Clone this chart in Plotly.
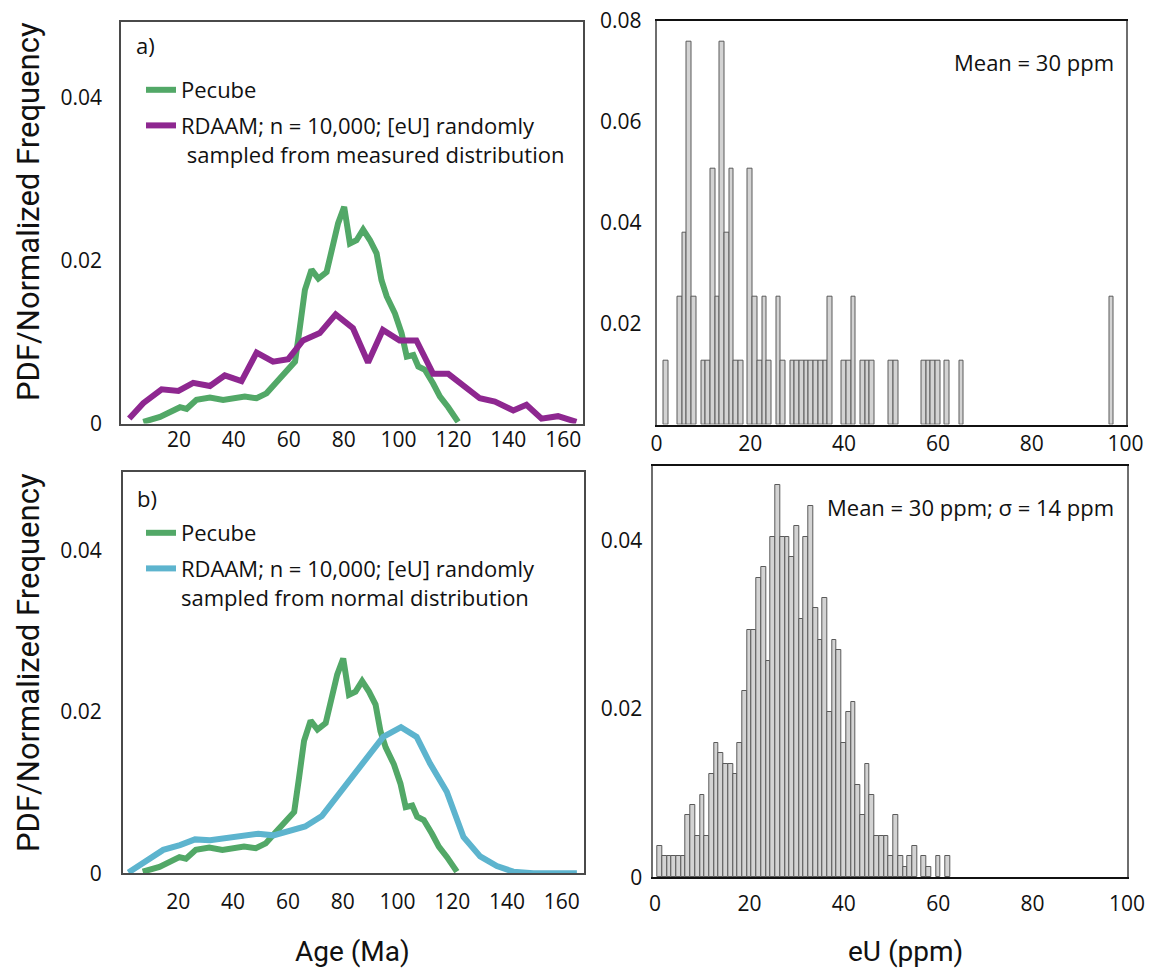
import plotly.graph_objects as go

# ---------------- data ----------------
# Pecube age distribution (same model output shown in both age panels)
pecube_age = [7.0, 13.1, 20.4, 22.8, 26.4, 31.3, 36.1, 39.8, 44.0, 48.3, 51.9, 55.6,
              59.2, 62.3, 64.1, 65.9, 68.3, 70.8, 73.8, 76.2, 78.0, 80.2, 82.3, 84.7,
              87.1, 89.6, 92.0, 93.8, 95.7, 98.7, 101.1, 103.0, 105.4, 107.2, 109.6,
              112.6, 115.1, 118.1, 121.7]
pecube_pdf = [0.0002, 0.0008, 0.0020, 0.0018, 0.0029, 0.0032, 0.0029, 0.0031, 0.0033,
              0.0031, 0.0037, 0.0051, 0.0066, 0.0076, 0.0119, 0.0164, 0.0189, 0.0178,
              0.0186, 0.0217, 0.0246, 0.0266, 0.0221, 0.0225, 0.0238, 0.0225, 0.0209,
              0.0176, 0.0156, 0.0135, 0.0111, 0.0082, 0.0084, 0.0070, 0.0066, 0.0049,
              0.0033, 0.0020, 0.0002]

# RDAAM ages, [eU] sampled from the measured distribution
rdaam_meas_age = [1.9, 7.0, 13.7, 19.8, 25.2, 31.3, 36.7, 42.8, 48.3, 54.3, 59.8, 65.2,
                  71.3, 77.1, 83.4, 88.9, 94.3, 100.4, 106.5, 112.6, 118.1, 123.5, 129.6,
                  135.1, 141.8, 146.6, 152.1, 158.1, 164.8]
rdaam_meas_pdf = [0.0006, 0.0025, 0.0042, 0.0040, 0.0050, 0.0046, 0.0059, 0.0052, 0.0087,
                  0.0076, 0.0079, 0.0102, 0.0111, 0.0134, 0.0117, 0.0075, 0.0115, 0.0102,
                  0.0102, 0.0061, 0.0061, 0.0047, 0.0031, 0.0027, 0.0016, 0.0023, 0.0006,
                  0.0009, 0.0002]

# RDAAM ages, [eU] sampled from a normal distribution
rdaam_norm_age = [1.8, 7.7, 14.5, 20.6, 26.1, 31.6, 37.7, 43.7, 49.2, 54.7, 60.8, 66.3,
                  72.4, 77.8, 83.9, 89.4, 94.8, 101.3, 107.0, 111.9, 118.0, 124.1, 130.2,
                  136.3, 142.3, 149.6, 165.5]
rdaam_norm_pdf = [0.0001, 0.0014, 0.0029, 0.0035, 0.0042, 0.0041, 0.0044, 0.0047, 0.0049,
                  0.0047, 0.0052, 0.0058, 0.0071, 0.0095, 0.0122, 0.0148, 0.0169, 0.0181,
                  0.0169, 0.0136, 0.0101, 0.0045, 0.0021, 0.0009, 0.0002, 0.0, 0.0]

# measured eU histogram (1 ppm bins, bin centres)
eu_meas_bins = [2, 5, 6, 7, 8, 10, 11, 12, 13, 14, 15, 16, 17, 18, 20, 21, 22, 23, 24,
                26, 27, 29, 30, 31, 32, 33, 34, 35, 36, 37, 40, 41, 42, 44, 45, 46, 50,
                51, 57, 58, 59, 60, 62, 65, 97]
eu_meas_freq = [0.0127, 0.0253, 0.0380, 0.0759, 0.0253, 0.0127, 0.0127, 0.0506, 0.0253,
                0.0759, 0.0380, 0.0506, 0.0127, 0.0127, 0.0506, 0.0253, 0.0127, 0.0253,
                0.0127, 0.0253, 0.0127, 0.0127, 0.0127, 0.0127, 0.0127, 0.0127, 0.0127,
                0.0127, 0.0127, 0.0253, 0.0127, 0.0127, 0.0253, 0.0127, 0.0127, 0.0127,
                0.0127, 0.0127, 0.0127, 0.0127, 0.0127, 0.0127, 0.0127, 0.0127, 0.0253]

# normally distributed eU histogram (1 ppm bins, bin centres)
eu_norm_bins = list(range(1, 56)) + [57, 58, 60, 62]
eu_norm_freq = [0.0037, 0.0025, 0.0025, 0.0025, 0.0025, 0.0025, 0.0074, 0.0086, 0.0049,
                0.0098, 0.0049, 0.0123, 0.0159, 0.0147, 0.0135, 0.0135, 0.0123, 0.0159,
                0.0221, 0.0294, 0.0294, 0.0355, 0.0368, 0.0257, 0.0404, 0.0466, 0.0404,
                0.0404, 0.0380, 0.0417, 0.0306, 0.0404, 0.0441, 0.0319, 0.0282, 0.0331,
                0.0196, 0.0282, 0.0270, 0.0159, 0.0196, 0.0208, 0.0110, 0.0074, 0.0135,
                0.0098, 0.0049, 0.0049, 0.0049, 0.0025, 0.0074, 0.0025, 0.0012, 0.0025,
                0.0037, 0.0025, 0.0012, 0.0025, 0.0025]

age_ticks = [20, 40, 60, 80, 100, 120, 140, 160]
eu_ticks = [0, 20, 40, 60, 80, 100]

# ---------------- styling ----------------
W, H = 1151, 968
GREEN = "#52A867"
PURPLE = "#8E2790"
BLUE = "#5DB4CE"
BAR_FILL = "#D3D3D3"
BAR_LINE = "#5A5A5A"
TICK_FONT = dict(family="Open Sans, sans-serif", size=21, color="#111111")
TEXT_FONT = dict(family="Open Sans, sans-serif", size=22, color="#111111")
TITLE_FAMILY = "Roboto, sans-serif"


def px_x(v):
    return v / W


def px_y(v):
    return 1 - v / H


fig = go.Figure()

# age panels
fig.add_trace(go.Scatter(x=pecube_age, y=pecube_pdf, mode="lines", name="Pecube",
                         line=dict(color=GREEN, width=6), xaxis="x", yaxis="y",
                         legend="legend", legendgroup="a1"))
fig.add_trace(go.Scatter(x=rdaam_meas_age, y=rdaam_meas_pdf, mode="lines",
                         name="RDAAM; n = 10,000; [eU] randomly<br> sampled from measured distribution",
                         line=dict(color=PURPLE, width=6), xaxis="x", yaxis="y",
                         legend="legend", legendgroup="a2"))
fig.add_trace(go.Scatter(x=pecube_age, y=pecube_pdf, mode="lines", name="Pecube",
                         line=dict(color=GREEN, width=6), xaxis="x3", yaxis="y3",
                         legend="legend2", legendgroup="b1"))
fig.add_trace(go.Scatter(x=rdaam_norm_age, y=rdaam_norm_pdf, mode="lines",
                         name="RDAAM; n = 10,000; [eU] randomly<br>sampled from normal distribution",
                         line=dict(color=BLUE, width=6), xaxis="x3", yaxis="y3",
                         legend="legend2", legendgroup="b2"))

# eU histograms
fig.add_trace(go.Bar(x=eu_meas_bins, y=eu_meas_freq, width=1.0, xaxis="x2", yaxis="y2",
                     marker=dict(color=BAR_FILL, line=dict(color=BAR_LINE, width=1)),
                     showlegend=False))
fig.add_trace(go.Bar(x=eu_norm_bins, y=eu_norm_freq, width=1.0, xaxis="x4", yaxis="y4",
                     marker=dict(color=BAR_FILL, line=dict(color=BAR_LINE, width=1)),
                     showlegend=False))

common = dict(showgrid=False, zeroline=False, ticks="", tickfont=TICK_FONT,
              automargin=False, showline=True, mirror=True)
left_frame = dict(linecolor="#4A4A4A", linewidth=1.5, **common)

fig.update_layout(
    width=W, height=H,
    margin=dict(l=0, r=0, t=0, b=0, pad=0),
    paper_bgcolor="white", plot_bgcolor="white",
    bargap=0,
    # top-left: age distribution, measured eU
    xaxis=dict(domain=[px_x(121), px_x(583)], range=[-1.1, 167.2], anchor="y",
               tickvals=age_ticks, ticklabelstandoff=-3, **left_frame),
    yaxis=dict(domain=[px_y(423.5), px_y(22)], range=[0, 0.0493], anchor="x",
               tickvals=[0, 0.02, 0.04], ticktext=["0", "0.02", "0.04"],
               ticklabelstandoff=13, **left_frame),
    # bottom-left: age distribution, normal eU
    xaxis3=dict(domain=[px_x(122.7), px_x(584)], range=[-0.3, 168.1], anchor="y3",
                tickvals=age_ticks, ticklabelstandoff=9, **left_frame),
    yaxis3=dict(domain=[px_y(873.3), px_y(472)], range=[0, 0.0497], anchor="x3",
                tickvals=[0, 0.02, 0.04], ticktext=["0", "0.02", "0.04"],
                ticklabelstandoff=15, **left_frame),
    # top-right: measured eU histogram
    xaxis2=dict(domain=[px_x(656.5), px_x(1125.5)], range=[0, 100], anchor="y2",
                tickvals=eu_ticks, linecolor="#111111", linewidth=2,
                ticklabelstandoff=-1, **common),
    yaxis2=dict(domain=[px_y(424.5), px_y(20.7)], range=[0, 0.08], anchor="x2",
                tickvals=[0.02, 0.04, 0.06, 0.08], ticktext=["0.02", "0.04", "0.06", "0.08"],
                linecolor="#6E6E6E", linewidth=1.5, ticklabelstandoff=9, **common),
    # bottom-right: normal eU histogram
    xaxis4=dict(domain=[px_x(653.3), px_x(1127)], range=[-0.36, 100], anchor="y4",
                tickvals=eu_ticks, linecolor="#111111", linewidth=2,
                ticklabelstandoff=6, **common),
    yaxis4=dict(domain=[px_y(877.3), px_y(466)], range=[0, 0.0488], anchor="x4",
                tickvals=[0, 0.02, 0.04], ticktext=["0", "0.02", "0.04"],
                linecolor="#6E6E6E", linewidth=1.5, ticklabelstandoff=5, **common),
    legend=dict(x=px_x(141), y=px_y(69), xanchor="left", yanchor="top",
                bgcolor="rgba(0,0,0,0)", font=TEXT_FONT, valign="top",
                tracegroupgap=4, itemwidth=30),
    legend2=dict(x=px_x(141), y=px_y(512), xanchor="left", yanchor="top",
                 bgcolor="rgba(0,0,0,0)", font=TEXT_FONT, valign="top",
                 tracegroupgap=4, itemwidth=30),
)

annotations = [
    dict(text="a)", x=px_x(134), y=px_y(45), xanchor="left", yanchor="middle", font=TEXT_FONT),
    dict(text="b)", x=px_x(135), y=px_y(498), xanchor="left", yanchor="middle", font=TEXT_FONT),
    dict(text="Mean = 30 ppm", x=px_x(1116), y=px_y(62), xanchor="right", yanchor="middle",
         font=TEXT_FONT),
    dict(text="Mean = 30 ppm; σ = 14 ppm", x=px_x(1116), y=px_y(507), xanchor="right",
         yanchor="middle", font=TEXT_FONT),
    dict(text="PDF/Normalized Frequency", x=px_x(28), y=px_y(212), textangle=-90,
         xanchor="center", yanchor="middle",
         font=dict(family=TITLE_FAMILY, size=31, color="#111111")),
    dict(text="PDF/Normalized Frequency", x=px_x(28), y=px_y(663), textangle=-90,
         xanchor="center", yanchor="middle",
         font=dict(family=TITLE_FAMILY, size=31, color="#111111")),
    dict(text="Age (Ma)", x=px_x(352), y=px_y(951), xanchor="center", yanchor="middle",
         font=dict(family=TITLE_FAMILY, size=28, color="#111111")),
    dict(text="eU (ppm)", x=px_x(905), y=px_y(951), xanchor="center", yanchor="middle",
         font=dict(family=TITLE_FAMILY, size=28, color="#111111")),
]
for a in annotations:
    a.update(xref="paper", yref="paper", showarrow=False)
fig.update_layout(annotations=annotations)

fig.write_html("out.html")
